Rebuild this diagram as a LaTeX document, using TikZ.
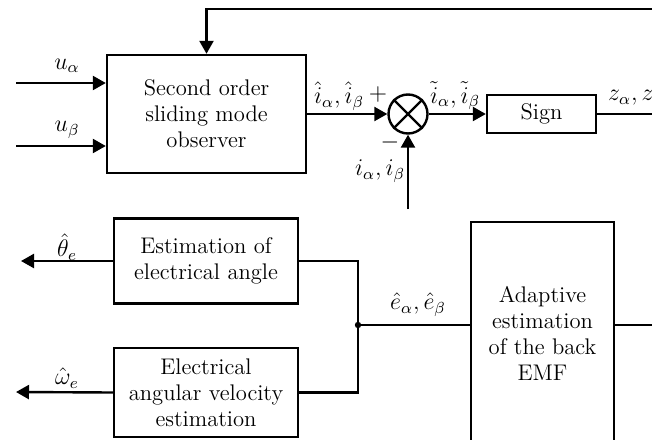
\documentclass[tikz,border=0pt]{standalone}
\usetikzlibrary{arrows.meta, positioning}

\begin{document}
\begin{tikzpicture}[
    x=0.5pt, y=-0.5pt,
    >={Triangle[length=6.5pt, width=7pt]}, line width=1.2pt,
    block/.style={draw, rectangle, align=center, inner sep=0pt, font=\fontsize{11.3}{13}\selectfont},
    sumnode/.style={draw, circle, minimum size=19.5pt, inner sep=0pt},
    lbl/.style={font=\fontsize{11.5}{13}\selectfont, inner sep=0pt}
]
\clip (0,0) rectangle (652,439);

% -------------------------
% Blocks
% -------------------------
\node[block, minimum width=99.5pt, minimum height=59pt] (Obs) at (206.5,114) {Second order\\sliding mode\\observer};
\node[sumnode] (Sum) at (408,114) {};
\node[block, minimum width=54.5pt, minimum height=19pt] (Sign) at (541.5,114) {Sign};
\node[block, minimum width=92pt, minimum height=42.5pt] (Angle) at (206,261) {Estimation of\\electrical angle};
\node[block, minimum width=92pt, minimum height=44.5pt] (Speed) at (206,392.5) {Electrical\\angular velocity\\estimation};
\node[block, minimum width=71.5pt, minimum height=111pt] (Emf) at (542.5,333) {Adaptive\\estimation\\of the back\\EMF};

% cross in the summing point
\draw (Sum.north west) -- (Sum.south east);
\draw (Sum.north east) -- (Sum.south west);

% -------------------------
% Free ends
% -------------------------
\coordinate (UaIn) at (16,83);
\coordinate (UbIn) at (16,146);
\coordinate (FbIn) at (660,9);
\coordinate (IIn) at (408,209);
\coordinate (ZOut) at (660,114);
\coordinate (Junc) at (358,325);
\coordinate (EmfOut) at (660,325);
\coordinate (ThOut) at (21,261);
\coordinate (WOut) at (16,392);

% -------------------------
% Connections
% -------------------------
\draw[->] (UaIn) -- (UaIn -| Obs.west);
\draw[->] (UbIn) -- (UbIn -| Obs.west);
\draw[->] (FbIn) -| (Obs.north);
\draw[->] (Obs.east) -- (Sum.west);
\draw[->] (IIn) -- (Sum.south);
\draw[->] (Sum.east) -- (Sign.west);
\draw (Sign.east) -- (ZOut);

\draw (Angle.east) -| (Junc);
\draw (Speed.east) -| (Junc);
\draw (Emf.west |- Junc) -- (Junc);
\fill (Junc) circle (1.6pt);
\draw (Emf.east |- EmfOut) -- (EmfOut);
\draw[->] (Angle.west) -- (ThOut);
\draw[->] (Speed.west) -- (WOut);

% -------------------------
% Signal labels
% -------------------------
\node[lbl] (UaLabel) at (67,66) {$u_\alpha$};
\node[lbl] (UbLabel) at (67,130) {$u_\beta$};
\node[lbl] (IhatLabel) at (339,96) {$\hat{i}_\alpha,\hat{i}_\beta$};
\node[lbl] (PlusLabel) at (378,94) {$+$};
\node[lbl] (MinusLabel) at (390,142) {$-$};
\node[lbl] (ILabel) at (380,171) {$i_\alpha,i_\beta$};
\node[lbl] (ItilLabel) at (455,96) {$\tilde{i}_\alpha,\tilde{i}_\beta$};
\node[lbl, anchor=west] (ZLabel) at (607,99) {$z_\alpha,z_\beta$};
\node[lbl] (ThLabel) at (67,247) {$\hat{\theta}_e$};
\node[lbl] (WLabel) at (67,378) {$\hat{\omega}_e$};
\node[lbl] (ELabel) at (418,305) {$\hat{e}_\alpha,\hat{e}_\beta$};

\end{tikzpicture}
\end{document}
